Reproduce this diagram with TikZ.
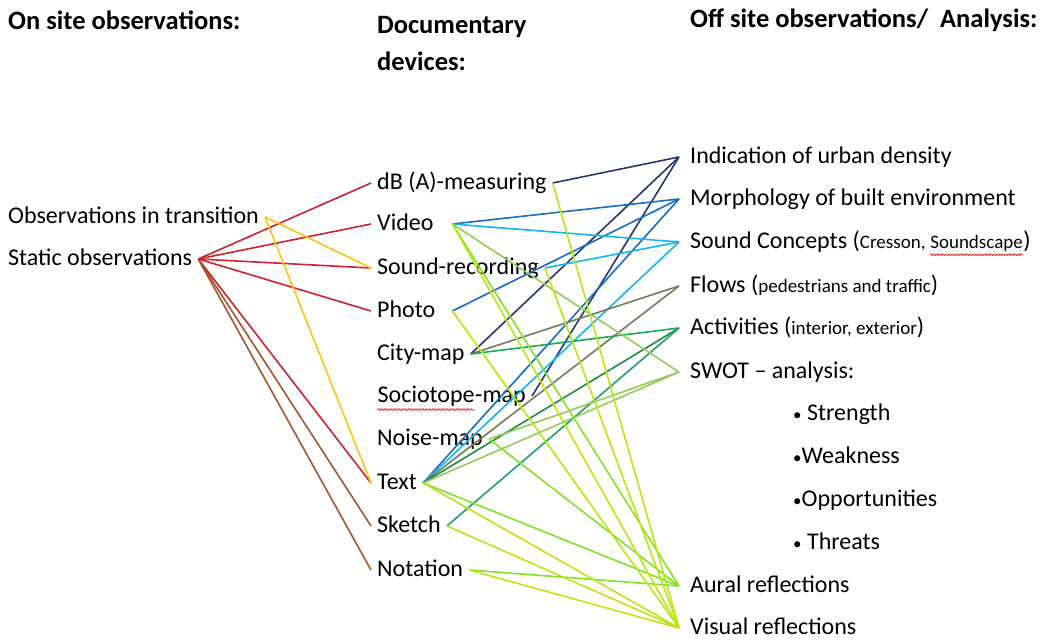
\documentclass[tikz,border=0pt]{standalone}
\usepackage{fontspec}
\setmainfont{Carlito}
\usetikzlibrary{decorations.pathmorphing}

\definecolor{lnred}{RGB}{205,35,45}
\definecolor{lnbrown}{RGB}{165,85,45}
\definecolor{lnyellow}{RGB}{255,195,20}
\definecolor{lnnavy}{RGB}{35,55,110}
\definecolor{lnblue}{RGB}{20,110,195}
\definecolor{lnsky}{RGB}{20,180,240}
\definecolor{lnolive}{RGB}{115,125,85}
\definecolor{lngreen}{RGB}{20,170,80}
\definecolor{lndkgreen}{RGB}{30,140,60}
\definecolor{lnteal}{RGB}{30,160,110}
\definecolor{lnsage}{RGB}{150,200,90}
\definecolor{lnlime}{RGB}{130,225,40}
\definecolor{lnyg}{RGB}{185,230,20}

\newcommand{\redwave}[1]{\tikz[baseline=(w.base)]{\node[inner sep=0pt] (w) {#1};
  \draw[red, line width=0.6pt, decorate, decoration={snake, amplitude=0.9pt, segment length=3pt}]
    ([yshift=-3pt]w.south west) -- ([yshift=-3pt]w.south east);}}
\newcommand{\smbul}{{\fontsize{17}{17}\selectfont\textbullet}}

\tikzset{
  lbl/.style={anchor=west, inner sep=6pt, text height=17pt, text depth=4pt,
    font=\fontsize{24}{28}\selectfont},
  rlbl/.style={lbl, inner xsep=11pt},
  head/.style={anchor=west, inner sep=0pt, font=\bfseries\fontsize{26.5}{30}\selectfont},
  ln/.style={line width=1.6pt}
}

\begin{document}
\begin{tikzpicture}[x=1pt,y=-1pt]
\useasboundingbox (0,0) rectangle (1051,644);

% headings
\node[head] (hon) at (8,20) {On site observations:};
\node[head] (hdoc) at (377,27) {Documentary};
\node[head] (hdev) at (377,61) {devices:};
\node[head] (hoff) at (690,20) {Off site observations/\ \ Analysis:};

% on site
\node[lbl] (trans) at (2,217) {Observations in transition};
\node[lbl] (static) at (2,259) {Static observations};

% documentary devices
\node[lbl] (dB) at (371,183) {dB (A)-measuring};
\node[lbl, text width=69pt] (video) at (371,224) {Video};
\node[lbl] (soundrec) at (371,268) {Sound-recording};
\node[lbl, text width=69pt] (photo) at (371,311) {Photo};
\node[lbl] (city) at (371,354) {City-map};
\node[lbl] (socio) at (371,396) {\redwave{Sociotope}-map};
\node[lbl] (noise) at (371,439) {Noise-map};
\node[lbl] (text) at (371,483) {Text};
\node[lbl] (sketch) at (371,526) {Sketch};
\node[lbl] (notation) at (371,570) {Notation};

% off site
\node[rlbl] (urban) at (679,157) {Indication of urban density};
\node[rlbl] (morph) at (679,199) {Morphology of built environment};
\node[rlbl] (concepts) at (679,242) {Sound Concepts ({\fontsize{19}{22}\selectfont Cresson, \redwave{Soundscape}})};
\node[rlbl] (flows) at (679,286) {Flows ({\fontsize{19}{22}\selectfont pedestrians and traffic})};
\node[rlbl] (activ) at (679,328) {Activities ({\fontsize{19}{22}\selectfont interior, exterior})};
\node[rlbl] (swot) at (679,372) {SWOT -- analysis:};
\node[lbl] (strength) at (787,414) {\smbul\ Strength};
\node[lbl] (weak) at (787,457) {\smbul Weakness};
\node[lbl] (opp) at (787,500) {\smbul Opportunities};
\node[lbl] (threat) at (787,543) {\smbul\ Threats};
\node[rlbl] (aural) at (679,586) {Aural reflections};
\node[rlbl] (visual) at (679,628) {Visual reflections};

% on site -> devices
\foreach \d in {dB,video,soundrec,photo,text}
  \draw[ln, lnred] (static.east) -- (\d.west);
\foreach \d in {sketch,notation}
  \draw[ln, lnbrown] (static.east) -- (\d.west);
\foreach \d in {soundrec,text}
  \draw[ln, lnyellow] (trans.east) -- (\d.west);

% devices -> off site
\foreach \d in {dB,city,socio}
  \draw[ln, lnnavy] (\d.east) -- (urban.west);
\foreach \d in {video,photo,text}
  \draw[ln, lnblue] (\d.east) -- (morph.west);
\foreach \d in {video,soundrec,text}
  \draw[ln, lnsky] (\d.east) -- (concepts.west);
\foreach \d in {city,text}
  \draw[ln, lnolive] (\d.east) -- (flows.west);
\draw[ln, lngreen] (city.east) -- (activ.west);
\draw[ln, lndkgreen] (text.east) -- (activ.west);
\draw[ln, lnteal] (sketch.east) -- (activ.west);
\foreach \d in {video,noise,text}
  \draw[ln, lnsage] (\d.east) -- (swot.west);
\foreach \d in {video,noise,text,notation}
  \draw[ln, lnlime] (\d.east) -- (aural.west);
\foreach \d in {dB,video,soundrec,photo,text,sketch,notation}
  \draw[ln, lnyg] (\d.east) -- (visual.west);
\end{tikzpicture}
\end{document}
